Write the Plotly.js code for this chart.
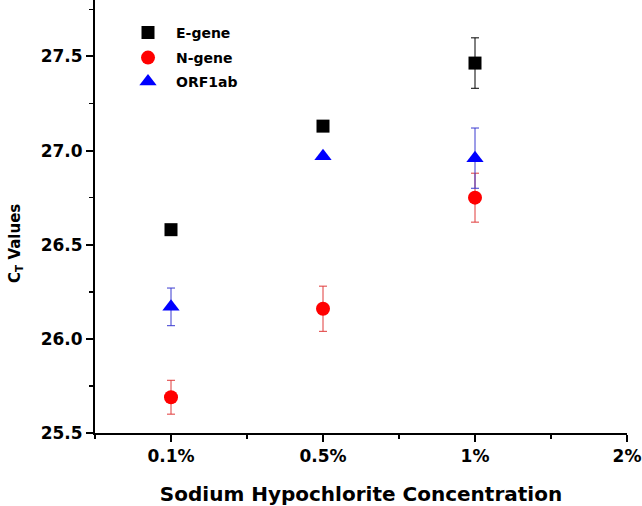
<!DOCTYPE html>
<html>
<head>
<meta charset="utf-8">
<script src="https://cdn.plot.ly/plotly-3.0.1.min.js"></script>
<style>html,body{margin:0;padding:0;background:#fff;}#chart{width:642px;height:506px;}</style>
</head>
<body>
<div id="chart"></div>
<script>
const concentrations = ['0.1%', '0.5%', '1%'];
const tickLabels = ['0.1%', '0.5%', '1%', '2%'];
const eGene = [26.58, 27.13, 27.465];
const eGeneErr = [0, 0, 0.134];
const nGene = [25.69, 26.16, 26.75];
const nGeneErr = [0.09, 0.12, 0.13];
const orf1ab = [26.17, 26.97, 26.96];
const orf1abErr = [0.1, 0, 0.16];

const xPos = concentrations.map((c, i) => i + 1);
const tickVals = tickLabels.map((c, i) => i + 1);
const F = 'DejaVu Sans, Liberation Sans, Arial, sans-serif';

function trace(name, legendId, y, err, color, errColor, symbol, size) {
  return {
    type: 'scatter', mode: 'markers', name: name, legend: legendId,
    x: xPos, y: y,
    marker: {symbol: symbol, size: size, color: color, line: {width: 0}},
    error_y: {type: 'data', array: err, visible: true, color: errColor, thickness: 1, width: 4},
    cliponaxis: false
  };
}

const data = [
  trace('E-gene', 'legend', eGene, eGeneErr, '#000000', '#000000', 'square', 13),
  trace('N-gene', 'legend2', nGene, nGeneErr, '#ff0000', '#e03a3a', 'circle', 14),
  trace('ORF1ab', 'legend3', orf1ab, orf1abErr, '#0000ff', '#3a3ad0', 'triangle-up', 15)
];

function leg(yc) {
  return {x: 0.047, y: yc, xanchor: 'left', yanchor: 'middle', itemwidth: 46,
    font: {family: F, size: 14, weight: 'bold'}, bgcolor: 'rgba(0,0,0,0)'};
}

const layout = {
  width: 642, height: 506,
  margin: {l: 95, r: 15, t: 0, b: 73},
  paper_bgcolor: '#fff', plot_bgcolor: '#fff',
  font: {family: F, color: '#000'},
  showlegend: true,
  legend: leg(0.924),
  legend2: leg(0.866),
  legend3: leg(0.8106),
  xaxis: {
    range: [0.5, 4], tickmode: 'array', tickvals: tickVals, ticktext: tickLabels,
    showgrid: false, zeroline: false, showline: true, linecolor: '#000', linewidth: 2,
    ticks: 'outside', ticklen: 7, tickwidth: 2, tickcolor: '#000',
    minor: {tickmode: 'linear', tick0: 0.5, dtick: 1, ticks: 'outside', ticklen: 4, tickwidth: 1.5, tickcolor: '#000', showgrid: false},
    tickfont: {family: F, size: 17, weight: 'bold'},
    title: {text: 'Sodium Hypochlorite Concentration', font: {family: F, size: 20, weight: 'bold'}, standoff: 25},
    automargin: false
  },
  yaxis: {
    range: [25.5, 27.8], tickmode: 'linear', tick0: 25.5, dtick: 0.5, tickformat: '.1f',
    showgrid: false, zeroline: false, showline: true, linecolor: '#000', linewidth: 2,
    ticks: 'outside', ticklen: 7, tickwidth: 2, tickcolor: '#000',
    minor: {tickmode: 'linear', dtick: 0.25, ticks: 'outside', ticklen: 4, tickwidth: 1.5, tickcolor: '#000', showgrid: false},
    tickfont: {family: F, size: 17, weight: 'bold'},
    automargin: false
  },
  annotations: [{
    text: 'C<sub>T</sub> Values', textangle: -90, showarrow: false,
    xref: 'paper', yref: 'paper', x: (15 - 95) / 532, y: (433 - 244) / 433,
    xanchor: 'center', yanchor: 'middle',
    font: {family: F, size: 15, weight: 'bold', color: '#000'}
  }]
};

Plotly.newPlot('chart', data, layout, {displayModeBar: false, staticPlot: true});
</script>
</body>
</html>
